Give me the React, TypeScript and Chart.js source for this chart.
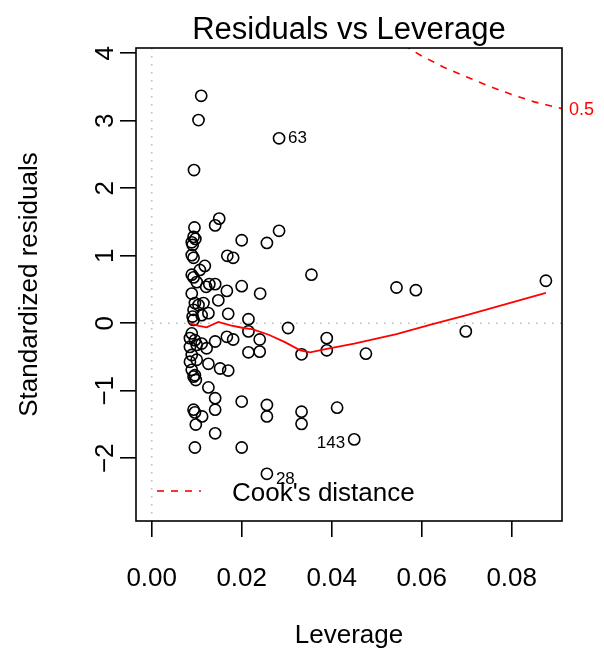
import React, { useEffect, useRef } from "react";
import { Chart, registerables } from "chart.js";

Chart.register(...registerables);

const FONT = "'Liberation Sans', Arial, Helvetica, sans-serif";

// Observations (leverage, standardized residual)
const leverage = [
  0.0110, 0.0104, 0.0094, 0.0150, 0.0141, 0.0095, 0.0283, 0.0093, 0.0097, 0.0089,
  0.0091, 0.0200, 0.0256, 0.0089, 0.0093, 0.0168, 0.0181, 0.0118, 0.0107, 0.0089,
  0.0093, 0.0100, 0.0128, 0.0141, 0.0121, 0.0167, 0.0200, 0.0241, 0.0089, 0.0355,
  0.0544, 0.0587, 0.0876, 0.0104, 0.0115, 0.0148, 0.0093, 0.0126, 0.0170, 0.0215,
  0.0093, 0.0096, 0.0091, 0.0215, 0.0240, 0.0215, 0.0240, 0.0303, 0.0089, 0.0085,
  0.0096, 0.0100, 0.0085, 0.0111, 0.0122, 0.0141, 0.0167, 0.0181, 0.0089, 0.0085,
  0.0100, 0.0126, 0.0152, 0.0170, 0.0089, 0.0096, 0.0093, 0.0098, 0.0126, 0.0141,
  0.0200, 0.0256, 0.0256, 0.0141, 0.0093, 0.0096, 0.0112, 0.0098, 0.0141, 0.0096,
  0.0200, 0.0333, 0.0389, 0.0389, 0.0476, 0.0698, 0.0333, 0.0333, 0.0412, 0.0111,
];
const stdResiduals = [
  3.37, 3.01, 2.27, 1.55, 1.45, 1.42, 1.37, 1.28, 1.25, 1.20,
  1.16, 1.23, 1.19, 1.01, 0.97, 1.00, 0.97, 0.85, 0.79, 0.72,
  0.68, 0.61, 0.58, 0.58, 0.54, 0.48, 0.55, 0.44, 0.44, 0.72,
  0.53, 0.49, 0.63, 0.27, 0.30, 0.34, 0.20, 0.15, 0.14, 0.06,
  0.05, 0.30, 0.10, -0.12, -0.24, -0.43, -0.42, -0.07, -0.15, -0.22,
  -0.25, -0.32, -0.35, -0.30, -0.37, -0.27, -0.20, -0.24, -0.47, -0.57,
  -0.54, -0.60, -0.67, -0.70, -0.69, -0.77, -0.79, -0.84, -0.95, -1.11,
  -1.16, -1.21, -1.38, -1.28, -1.28, -1.32, -1.38, -1.50, -1.63, -1.84,
  -1.84, -0.46, -0.22, -0.40, -0.45, -0.12, -1.31, -1.49, -1.25, 0.12,
];

// Labelled (most extreme) observations
const idText = ["63", "143", "28"];
const idLeverage = [0.0283, 0.0450, 0.0256];
const idResiduals = [2.74, -1.72, -2.23];
const idSide = ["right", "left", "right"];

// Smoothed trend (red line)
const smoothLeverage = [0.0085, 0.0105, 0.0122, 0.0148, 0.0175, 0.0204, 0.0225, 0.0260, 0.0296, 0.0330, 0.0352, 0.0389, 0.0450, 0.0544, 0.0620, 0.0700, 0.0876];
const smoothResiduals = [0.00, -0.04, -0.06, 0.02, -0.03, -0.07, -0.09, -0.17, -0.28, -0.40, -0.43, -0.38, -0.30, -0.16, -0.02, 0.12, 0.45];

// Cook's distance 0.5 contour
const cookLeverage = [0.0560, 0.0600, 0.0650, 0.0700, 0.0750, 0.0800, 0.0850, 0.0912];
const cookResiduals = [4.12, 3.96, 3.79, 3.65, 3.51, 3.39, 3.28, 3.18];
const cookLabel = "0.5";

const xTicks = [0, 0.02, 0.04, 0.06, 0.08];
const yTicks = [-2, -1, 0, 1, 2, 3, 4];
const xLimits = [-0.003489, 0.091178];
const yLimits = [-2.929, 4.078];

const titleText = "Residuals vs Leverage";
const xTitle = "Leverage";
const yTitle = "Standardized residuals";
const legendText = "Cook's distance";

const fmtY = (v: number) => (v < 0 ? "\u2212" + Math.abs(v) : String(v));

const rStylePlugin = {
  id: "rStyle",
  beforeDatasetsDraw(chart: any) {
    const { ctx, chartArea: a, scales } = chart;
    const x = scales.x;
    const y = scales.y;
    ctx.save();
    ctx.beginPath();
    ctx.rect(a.left, a.top, a.right - a.left, a.bottom - a.top);
    ctx.clip();
    ctx.strokeStyle = "#bebebe";
    ctx.lineWidth = 1.6;
    ctx.setLineDash([1.6, 6.4]);
    const y0 = y.getPixelForValue(0);
    const x0 = x.getPixelForValue(0);
    ctx.beginPath();
    ctx.moveTo(a.left, y0);
    ctx.lineTo(a.right, y0);
    ctx.moveTo(x0, a.top);
    ctx.lineTo(x0, a.bottom);
    ctx.stroke();
    ctx.restore();
  },
  afterDraw(chart: any) {
    const { ctx, chartArea: a, scales } = chart;
    const x = scales.x;
    const y = scales.y;
    ctx.save();
    // box
    ctx.strokeStyle = "#000";
    ctx.lineWidth = 1.6;
    ctx.setLineDash([]);
    ctx.strokeRect(a.left, a.top, a.right - a.left, a.bottom - a.top);

    // title
    ctx.fillStyle = "#000";
    ctx.font = `31px ${FONT}`;
    ctx.textAlign = "center";
    ctx.textBaseline = "alphabetic";
    ctx.fillText(titleText, (a.left + a.right) / 2, 39);

    // id labels
    ctx.font = `17px ${FONT}`;
    ctx.textBaseline = "middle";
    for (let i = 0; i < idText.length; i++) {
      const px = x.getPixelForValue(idLeverage[i]);
      const py = y.getPixelForValue(idResiduals[i]);
      if (idSide[i] === "right") {
        ctx.textAlign = "left";
        ctx.fillText(idText[i], px + 9, py + (i === 2 ? 5 : 0));
      } else {
        ctx.textAlign = "right";
        ctx.fillText(idText[i], px - 9, py + 4);
      }
    }

    // cook label
    ctx.fillStyle = "#ff0000";
    ctx.font = `18px ${FONT}`;
    ctx.textAlign = "left";
    ctx.textBaseline = "middle";
    const cy = y.getPixelForValue(cookResiduals[cookResiduals.length - 1]);
    ctx.fillText(cookLabel, a.right + 7, cy + 1);

    // legend
    const ly = a.bottom - 30;
    ctx.strokeStyle = "#ff0000";
    ctx.lineWidth = 1.6;
    ctx.setLineDash([7, 7]);
    ctx.beginPath();
    ctx.moveTo(a.left + 21, ly);
    ctx.lineTo(a.left + 65, ly);
    ctx.stroke();
    ctx.setLineDash([]);
    ctx.fillStyle = "#000";
    ctx.font = `26px ${FONT}`;
    ctx.textAlign = "left";
    ctx.textBaseline = "alphabetic";
    ctx.fillText(legendText, a.left + 96, ly + 10);
    ctx.restore();
  },
};

export default function App() {
  const ref = useRef<HTMLCanvasElement | null>(null);
  useEffect(() => {
    if (!ref.current) return;
    const points = leverage.map((l, i) => ({ x: l, y: stdResiduals[i] }));
    idLeverage.forEach((l, i) => points.push({ x: l, y: idResiduals[i] }));
    const chart = new Chart(ref.current, {
      type: "scatter",
      data: {
        datasets: [
          {
            data: smoothLeverage.map((l, i) => ({ x: l, y: smoothResiduals[i] })),
            showLine: true,
            borderColor: "#ff0000",
            borderWidth: 1.8,
            pointRadius: 0,
            fill: false,
          } as any,
          {
            data: cookLeverage.map((l, i) => ({ x: l, y: cookResiduals[i] })),
            showLine: true,
            borderColor: "#ff0000",
            borderWidth: 1.6,
            borderDash: [7, 7],
            pointRadius: 0,
            fill: false,
            clip: 0,
          } as any,
          {
            data: points,
            pointStyle: "circle",
            pointRadius: 5.6,
            borderColor: "#000",
            borderWidth: 1.6,
            backgroundColor: "rgba(0,0,0,0)",
          } as any,
        ],
      },
      options: {
        animation: false,
        responsive: false,
        devicePixelRatio: 1,
        events: [],
        layout: { padding: { left: 0, right: 42, top: 48, bottom: 0 } },
        plugins: { legend: { display: false }, tooltip: { enabled: false }, title: { display: false } },
        scales: {
          x: {
            type: "linear",
            min: xLimits[0],
            max: xLimits[1],
            afterBuildTicks: (s: any) => {
              s.ticks = xTicks.map((v) => ({ value: v }));
            },
            afterFit: (s: any) => {
              s.height = 128;
            },
            grid: { display: true, drawOnChartArea: false, drawTicks: true, tickLength: 16, color: "#000", lineWidth: 1.6 },
            border: { display: false },
            ticks: {
              color: "#000",
              font: { family: FONT, size: 26 },
              padding: 26,
              maxRotation: 0,
              minRotation: 0,
              autoSkip: false,
              callback: (v: any) => Number(v).toFixed(2),
            },
            title: { display: true, text: xTitle, color: "#000", font: { family: FONT, size: 26 }, padding: { top: 0, bottom: -2 } },
          },
          y: {
            type: "linear",
            min: yLimits[0],
            max: yLimits[1],
            afterBuildTicks: (s: any) => {
              s.ticks = yTicks.map((v) => ({ value: v }));
            },
            afterFit: (s: any) => {
              s.width = 136;
            },
            grid: { display: true, drawOnChartArea: false, drawTicks: true, tickLength: 16, color: "#000", lineWidth: 1.6 },
            border: { display: false },
            ticks: {
              color: "#000",
              font: { family: FONT, size: 26 },
              padding: -1,
              minRotation: 90,
              maxRotation: 90,
              crossAlign: "center",
              autoSkip: false,
              callback: (v: any) => fmtY(Number(v)),
            },
            title: { display: true, text: yTitle, color: "#000", font: { family: FONT, size: 26 }, padding: { top: 14, bottom: 0 } },
          },
        },
      } as any,
      plugins: [rStylePlugin],
    });
    return () => chart.destroy();
  }, []);
  return (
    <div style={{ position: "absolute", left: 0, top: 0, width: 604, height: 649, background: "#fff" }}>
      <canvas ref={ref} width={604} height={649} style={{ width: 604, height: 649 }} />
    </div>
  );
}
